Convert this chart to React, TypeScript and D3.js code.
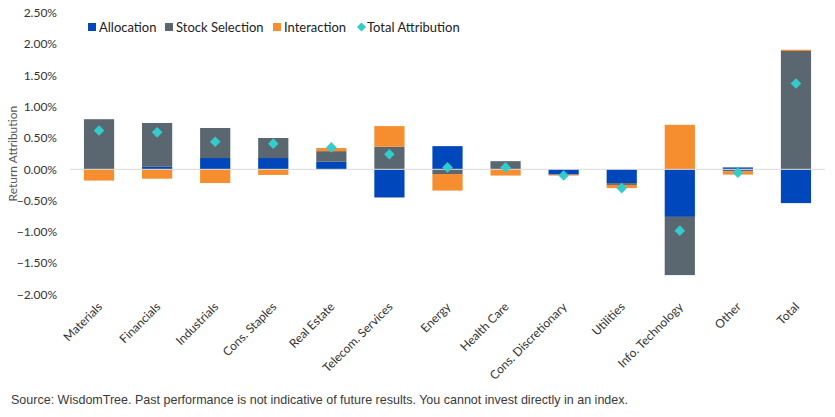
import React, { useEffect, useRef } from "react";
import * as d3 from "d3";

const categories = [
  "Materials",
  "Financials",
  "Industrials",
  "Cons. Staples",
  "Real Estate",
  "Telecom. Services",
  "Energy",
  "Health Care",
  "Cons. Discretionary",
  "Utilities",
  "Info. Technology",
  "Other",
  "Total",
];

// attribution effects, in percent
const allocation = [0.0, 0.04, 0.18, 0.18, 0.12, -0.45, 0.37, 0.0, -0.085, -0.22, -0.76, 0.03, -0.54];
const stockSelection = [0.8, 0.7, 0.48, 0.32, 0.17, 0.36, -0.075, 0.13, 0.0, -0.03, -0.93, -0.035, 1.89];
const interaction = [-0.18, -0.15, -0.22, -0.09, 0.05, 0.33, -0.265, -0.1, -0.015, -0.05, 0.71, -0.05, 0.02];
const totalAttribution = [0.62, 0.59, 0.44, 0.41, 0.35, 0.24, 0.03, 0.03, -0.1, -0.3, -0.98, -0.055, 1.37];

const yTicks = [2.5, 2.0, 1.5, 1.0, 0.5, 0.0, -0.5, -1.0, -1.5, -2.0];

const seriesNames = ["Allocation", "Stock Selection", "Interaction"];
const seriesColors = ["#0047BB", "#5B6770", "#F68D2E"];
const totalColor = "#33CCCC";

const FONT = "Lato, 'Open Sans', sans-serif";

const AttributionChart = () => {
  const ref = useRef<SVGSVGElement>(null);
  const width = 835;
  const height = 417;
  const plot = { left: 70, right: 825, top: 12.8, bottom: 294.5 };

  useEffect(() => {
    const svg = d3.select(ref.current);
    svg.selectAll("*").remove();

    const rows = categories.map((c, i) => ({
      key: c,
      Allocation: allocation[i],
      "Stock Selection": stockSelection[i],
      Interaction: interaction[i],
    }));

    const x = d3
      .scaleBand()
      .domain(categories)
      .range([plot.left, plot.right])
      .paddingInner(0.48)
      .paddingOuter(0.24);

    const y = d3.scaleLinear().domain([-2, 2.5]).range([plot.bottom, plot.top]);

    const stacked = d3
      .stack()
      .keys(seriesNames)
      .offset(d3.stackOffsetDiverging)(rows as any);

    // y tick labels
    svg
      .append("g")
      .selectAll("text")
      .data(yTicks)
      .join("text")
      .attr("x", 57)
      .attr("y", (d) => y(d))
      .attr("dy", "0.35em")
      .attr("text-anchor", "end")
      .style("font-family", FONT)
      .style("font-size", "12px")
      .style("fill", "#333")
      .text((d) => d3.format(".2f")(d) + "%");

    // y axis title
    svg
      .append("text")
      .attr("transform", `translate(17,${(plot.top + plot.bottom) / 2}) rotate(-90)`)
      .attr("text-anchor", "middle")
      .style("font-family", FONT)
      .style("font-size", "12px")
      .style("fill", "#595959")
      .text("Return Attribution");

    // bars
    svg
      .append("g")
      .selectAll("g")
      .data(stacked)
      .join("g")
      .attr("fill", (_, i) => seriesColors[i])
      .selectAll("rect")
      .data((s) => s.map((d, i) => ({ d, key: categories[i] })))
      .join("rect")
      .attr("x", (p) => x(p.key)!)
      .attr("width", x.bandwidth())
      .attr("y", (p) => y(Math.max(p.d[0], p.d[1])))
      .attr("height", (p) => Math.abs(y(p.d[0]) - y(p.d[1])));

    // zero line
    svg
      .append("line")
      .attr("x1", plot.left)
      .attr("x2", plot.right)
      .attr("y1", y(0))
      .attr("y2", y(0))
      .attr("stroke", "#D9D9D9")
      .attr("stroke-width", 1);

    const diamond = (r: number) => `M0,${-r}L${r},0L0,${r}L${-r},0Z`;

    // total attribution markers
    svg
      .append("g")
      .selectAll("path")
      .data(totalAttribution)
      .join("path")
      .attr("d", diamond(5.3))
      .attr("transform", (d, i) => `translate(${x(categories[i])! + x.bandwidth() / 2},${y(d)})`)
      .attr("fill", totalColor);

    // category labels
    svg
      .append("g")
      .selectAll("text")
      .data(categories)
      .join("text")
      .attr(
        "transform",
        (d) => `translate(${x(d)! + x.bandwidth() / 2 + 4},${plot.bottom + 13}) rotate(-45)`
      )
      .attr("text-anchor", "end")
      .style("font-family", FONT)
      .style("font-size", "12px")
      .style("fill", "#333")
      .text((d) => d);

    // legend
    const legendItems = [
      { name: seriesNames[0], color: seriesColors[0], x: 88, shape: "square" },
      { name: seriesNames[1], color: seriesColors[1], x: 165, shape: "square" },
      { name: seriesNames[2], color: seriesColors[2], x: 273, shape: "square" },
      { name: "Total Attribution", color: totalColor, x: 357, shape: "diamond" },
    ];
    const legend = svg
      .append("g")
      .selectAll("g")
      .data(legendItems)
      .join("g")
      .attr("transform", (d) => `translate(${d.x},27)`);
    legend
      .filter((d) => d.shape === "square")
      .append("rect")
      .attr("x", 0)
      .attr("y", -4)
      .attr("width", 8)
      .attr("height", 8)
      .attr("fill", (d) => d.color);
    legend
      .filter((d) => d.shape === "diamond")
      .append("path")
      .attr("d", diamond(4.5))
      .attr("transform", "translate(4.5,0)")
      .attr("fill", (d) => d.color);
    legend
      .append("text")
      .attr("x", (d) => (d.shape === "square" ? 11 : 10))
      .attr("dy", "0.35em")
      .style("font-family", FONT)
      .style("font-size", "13px")
      .style("fill", "#222")
      .text((d) => d.name);

    // source note, condensed to the narrow face used in the report
    svg
      .append("text")
      .attr("x", 11)
      .attr("y", 404)
      .attr("textLength", 617)
      .attr("lengthAdjust", "spacingAndGlyphs")
      .style("font-family", "'Liberation Sans', Arial, sans-serif")
      .style("font-size", "13px")
      .style("fill", "#3a3a3a")
      .text(
        "Source: WisdomTree. Past performance is not indicative of future results. You cannot invest directly in an index."
      );
  }, []);

  return (
    <svg
      ref={ref}
      width={width}
      height={height}
      style={{ position: "absolute", left: 0, top: 0, background: "#fff" }}
    />
  );
};

export default function App() {
  return <AttributionChart />;
}
